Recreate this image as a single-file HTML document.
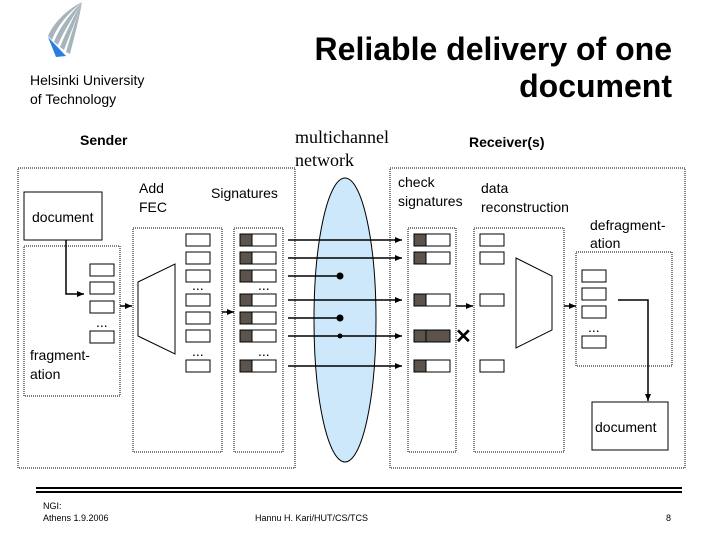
<!DOCTYPE html>
<html><head><meta charset="utf-8"><style>
html,body{margin:0;padding:0;background:#fff;}
svg{display:block;}
text{font-family:"Liberation Sans",sans-serif;fill:#000;}
</style></head><body>
<svg width="720" height="540" viewBox="0 0 720 540" xmlns="http://www.w3.org/2000/svg">
<defs>
<marker id="ah" markerWidth="8" markerHeight="8" refX="7" refY="4" orient="auto" markerUnits="userSpaceOnUse">
<path d="M0,1 L7,4 L0,7 z" fill="#000"/></marker>
</defs>
<!-- logo -->
<g fill="#a8b4bc">
<path d="M82,2 C70,8 55,20 48,36 L52,40 C58,24 70,12 82,2 z"/>
<path d="M82,2 C72,12 60,26 54,42 L58,45 C64,30 74,16 82,2 z"/>
<path d="M82,2 C74,16 66,32 60,47 L64,50 C70,34 77,18 82,2 z"/>
<path d="M82,2 C76,20 70,38 66,52 L70,54 C74,38 79,20 82,2 z"/>
</g>
<path d="M48,37 L66,56 L56,57 z" fill="#2a7de0"/>
<text x="30" y="85" font-size="14">Helsinki University</text>
<text x="30" y="104" font-size="14">of Technology</text>
<text x="672" y="60" font-size="32" font-weight="bold" text-anchor="end">Reliable delivery of one</text>
<text x="672" y="97" font-size="32" font-weight="bold" text-anchor="end">document</text>

<text x="80" y="145" font-size="14" font-weight="bold">Sender</text>
<text x="295" y="143" font-size="18" style="font-family:'Liberation Serif',serif">multichannel</text>
<text x="295" y="166" font-size="18" style="font-family:'Liberation Serif',serif">network</text>
<text x="469" y="147" font-size="14" font-weight="bold">Receiver(s)</text>

<g fill="none" stroke="#000" stroke-width="1" stroke-dasharray="1,1">
<rect x="18" y="168" width="277" height="300"/>
<rect x="390" y="168" width="295" height="300"/>
<rect x="24" y="246" width="96" height="150"/>
<rect x="133" y="228" width="89" height="224"/>
<rect x="234" y="228" width="49" height="224"/>
<rect x="408" y="228" width="48" height="224"/>
<rect x="474" y="228" width="90" height="224"/>
<rect x="576" y="252" width="96" height="114"/>
</g>

<ellipse cx="345" cy="320" rx="31" ry="142" fill="#cce8fa" stroke="#000" stroke-width="1"/>

<g fill="#fff" stroke="#000" stroke-width="1">
<rect x="24" y="192" width="78" height="48"/>
<rect x="592" y="402" width="76" height="48"/>
<rect x="90" y="264" width="24" height="12"/><rect x="90" y="282" width="24" height="12"/>
<rect x="90" y="301" width="24" height="12"/><rect x="90" y="331" width="24" height="12"/>
<rect x="186" y="234" width="24" height="12"/><rect x="186" y="252" width="24" height="12"/>
<rect x="186" y="270" width="24" height="12"/><rect x="186" y="294" width="24" height="12"/>
<rect x="186" y="312" width="24" height="12"/><rect x="186" y="330" width="24" height="12"/>
<rect x="186" y="360" width="24" height="12"/>
<path d="M138,282 L175,264 L175,354 L138,336 z"/>
<rect x="240" y="234" width="36" height="12"/><rect x="240" y="252" width="36" height="12"/>
<rect x="240" y="270" width="36" height="12"/><rect x="240" y="294" width="36" height="12"/>
<rect x="240" y="312" width="36" height="12"/><rect x="240" y="330" width="36" height="12"/>
<rect x="240" y="360" width="36" height="12"/>
<rect x="414" y="234" width="36" height="12"/><rect x="414" y="252" width="36" height="12"/>
<rect x="414" y="294" width="36" height="12"/><rect x="414" y="330" width="36" height="12"/>
<rect x="414" y="360" width="36" height="12"/>
<rect x="480" y="234" width="24" height="12"/><rect x="480" y="252" width="24" height="12"/>
<rect x="480" y="294" width="24" height="12"/><rect x="480" y="360" width="24" height="12"/>
<path d="M516,258 L552,276 L552,330 L516,348 z"/>
<rect x="582" y="270" width="24" height="12"/><rect x="582" y="288" width="24" height="12"/>
<rect x="582" y="306" width="24" height="12"/><rect x="582" y="336" width="24" height="12"/>
</g>
<g fill="#5c544c" stroke="#000" stroke-width="1">
<rect x="240" y="234" width="12" height="12"/><rect x="240" y="252" width="12" height="12"/>
<rect x="240" y="270" width="12" height="12"/><rect x="240" y="294" width="12" height="12"/>
<rect x="240" y="312" width="12" height="12"/><rect x="240" y="330" width="12" height="12"/>
<rect x="240" y="360" width="12" height="12"/>
<rect x="414" y="234" width="12" height="12"/><rect x="414" y="252" width="12" height="12"/>
<rect x="414" y="294" width="12" height="12"/>
<rect x="414" y="330" width="12" height="12"/><rect x="426" y="330" width="24" height="12"/>
<rect x="414" y="360" width="12" height="12"/>
</g>

<g stroke="#000" stroke-width="1.5" fill="none">
<path d="M66,240 L66,294 L84,294" marker-end="url(#ah)"/>
<line x1="120" y1="306" x2="132" y2="306" marker-end="url(#ah)"/>
<line x1="222" y1="312" x2="234" y2="312" marker-end="url(#ah)"/>
<line x1="288" y1="240" x2="402" y2="240" marker-end="url(#ah)"/>
<line x1="288" y1="258" x2="402" y2="258" marker-end="url(#ah)"/>
<line x1="288" y1="276" x2="340" y2="276"/>
<line x1="288" y1="300" x2="402" y2="300" marker-end="url(#ah)"/>
<line x1="288" y1="318" x2="340" y2="318"/>
<line x1="288" y1="336" x2="402" y2="336" marker-end="url(#ah)"/>
<line x1="288" y1="366" x2="402" y2="366" marker-end="url(#ah)"/>
<line x1="456" y1="306" x2="473" y2="306" marker-end="url(#ah)"/>
<line x1="564" y1="306" x2="576" y2="306" marker-end="url(#ah)"/>
<path d="M618,300 L648,300 L648,401" marker-end="url(#ah)"/>
</g>
<circle cx="340" cy="276" r="3.5"/><circle cx="340" cy="318" r="3.5"/><circle cx="340" cy="336" r="2.5"/>
<text x="455" y="343" font-size="20" font-weight="bold">✕</text>

<g font-size="14">
<text x="32" y="222">document</text>
<text x="30" y="360">fragment-</text><text x="30" y="379">ation</text>
<text x="139" y="193">Add</text><text x="139" y="212">FEC</text>
<text x="211" y="198">Signatures</text>
<text x="398" y="187">check</text><text x="398" y="206">signatures</text>
<text x="481" y="193">data</text><text x="481" y="212">reconstruction</text>
<text x="590" y="230">defragment-</text><text x="590" y="248">ation</text>
<text x="595" y="432">document</text>
<text x="96" y="327">...</text><text x="192" y="290">...</text><text x="192" y="356">...</text>
<text x="258" y="290">...</text><text x="258" y="356">...</text><text x="588" y="332">...</text>
</g>

<rect x="36" y="487" width="646" height="2" fill="#000"/>
<rect x="36" y="491" width="646" height="2" fill="#000"/>
<g font-size="9" fill="#333">
<text x="43" y="509">NGI:</text>
<text x="43" y="521">Athens 1.9.2006</text>
<text x="255" y="521">Hannu H. Kari/HUT/CS/TCS</text>
<text x="666" y="521">8</text>
</g>
</svg>
</body></html>
